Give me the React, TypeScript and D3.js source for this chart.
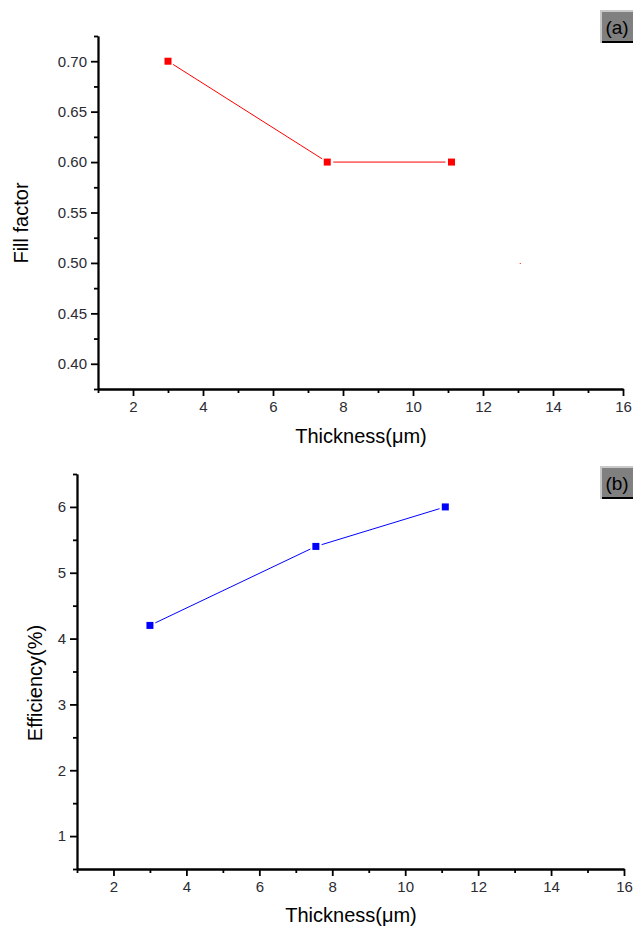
import React, { useEffect, useRef } from "react";
import * as d3 from "d3";

// data
const thickness = [3, 7.55, 11.1];
const fillFactor = [0.7, 0.6, 0.6];
const efficiency = [4.2, 5.4, 6.0];
const strayDot = [13.05, 0.5];

const xTicks = [2, 4, 6, 8, 10, 12, 14, 16];
const xMinorTicks = [1, 3, 5, 7, 9, 11, 13, 15];
const fillTicks = [0.4, 0.45, 0.5, 0.55, 0.6, 0.65, 0.7];
const fillMinorTicks = [0.375, 0.425, 0.475, 0.525, 0.575, 0.625, 0.675, 0.725];
const effTicks = [1, 2, 3, 4, 5, 6];
const effMinorTicks = [0.5, 1.5, 2.5, 3.5, 4.5, 5.5, 6.5];

const FONT = "'Liberation Sans', Arial, sans-serif";

function drawPanel(svg, opts) {
    const { xRange, yDomain, yRange, xs, ys, color, yTicks, yMinor, yFormat, yLabel, yLabelX, yLabelY, xLabelY, xLabelX, tag, tagY } = opts;
    const x = d3.scaleLinear().domain([1, 16]).range(xRange);
    const y = d3.scaleLinear().domain(yDomain).range(yRange);
    const g = svg.append("g");

    // x axis, major + minor
    g.append("g")
        .attr("transform", "translate(0," + yRange[0] + ")")
        .call(d3.axisBottom(x).tickValues(xTicks).tickSize(7).tickSizeOuter(0).tickPadding(5));
    g.append("g")
        .attr("transform", "translate(0," + yRange[0] + ")")
        .call(d3.axisBottom(x).tickValues(xMinorTicks).tickSize(4).tickSizeOuter(0).tickFormat(() => ""));

    // y axis, major + minor
    g.append("g")
        .attr("transform", "translate(" + xRange[0] + ",0)")
        .call(d3.axisLeft(y).tickValues(yTicks).tickSize(7).tickSizeOuter(0).tickPadding(4).tickFormat(yFormat));
    g.append("g")
        .attr("transform", "translate(" + xRange[0] + ",0)")
        .call(d3.axisLeft(y).tickValues(yMinor).tickSize(4).tickSizeOuter(0).tickFormat(() => ""));

    g.selectAll(".domain, .tick line").attr("stroke", "#000").attr("stroke-width", 1.8);
    g.selectAll(".tick text")
        .attr("font-family", FONT)
        .attr("font-size", 15)
        .attr("fill", "#2b2b33");

    // connecting segments, shortened so they stop short of the markers
    const pts = xs.map((d, i) => [x(d), y(ys[i])]);
    const gap = 6;
    for (let i = 0; i < pts.length - 1; i++) {
        const [x0, y0] = pts[i];
        const [x1, y1] = pts[i + 1];
        const len = Math.hypot(x1 - x0, y1 - y0);
        const ux = (x1 - x0) / len, uy = (y1 - y0) / len;
        g.append("line")
            .attr("x1", x0 + ux * gap).attr("y1", y0 + uy * gap)
            .attr("x2", x1 - ux * gap).attr("y2", y1 - uy * gap)
            .attr("stroke", color)
            .attr("stroke-width", 1);
    }

    // square markers
    const s = 7;
    g.selectAll(".marker")
        .data(pts)
        .enter()
        .append("rect")
        .attr("class", "marker")
        .attr("x", d => d[0] - s / 2)
        .attr("y", d => d[1] - s / 2)
        .attr("width", s)
        .attr("height", s)
        .attr("fill", color);

    if (opts.stray) {
        g.append("rect")
            .attr("x", x(opts.stray[0]))
            .attr("y", y(opts.stray[1]))
            .attr("width", 1)
            .attr("height", 1)
            .attr("fill", color);
    }

    // axis titles
    g.append("text")
        .attr("x", xLabelX)
        .attr("y", xLabelY)
        .attr("text-anchor", "middle")
        .attr("font-family", FONT)
        .attr("font-size", 20)
        .attr("fill", "#000")
        .text("Thickness(μm)");

    g.append("text")
        .attr("transform", "translate(" + yLabelX + "," + yLabelY + ") rotate(-90)")
        .attr("text-anchor", "middle")
        .attr("font-family", FONT)
        .attr("font-size", 20)
        .attr("fill", "#000")
        .text(yLabel);

    // panel tag box, bevelled like the source
    const tg = g.append("g").attr("transform", "translate(600," + tagY + ")");
    tg.append("rect").attr("x", 0).attr("y", 0).attr("width", 33).attr("height", 33).attr("fill", "#c8c8c8");
    tg.append("rect").attr("x", 2).attr("y", 2).attr("width", 31).attr("height", 31).attr("fill", "#000");
    tg.append("rect").attr("x", 2).attr("y", 2).attr("width", 31).attr("height", 29).attr("fill", "#808080");
    tg.append("text")
        .attr("x", 17)
        .attr("y", 24)
        .attr("text-anchor", "middle")
        .attr("font-family", FONT)
        .attr("font-size", 19)
        .attr("fill", "#000")
        .text(tag);
}

function ThicknessCharts() {
    const chart = useRef(null);

    useEffect(() => {
        const svg = d3.select(chart.current)
            .attr("width", 633)
            .attr("height", 926);

        svg.append("rect").attr("width", 633).attr("height", 926).attr("fill", "#fff");

        // (a) fill factor
        drawPanel(svg, {
            xRange: [98, 623],
            yDomain: [0.375, 0.725],
            yRange: [389, 36],
            xs: thickness,
            ys: fillFactor,
            color: "#ff0000",
            yTicks: fillTicks,
            yMinor: fillMinorTicks,
            yFormat: d3.format(".2f"),
            yLabel: "Fill factor",
            yLabelX: 28,
            yLabelY: 223,
            xLabelX: 361,
            xLabelY: 443,
            tag: "(a)",
            tagY: 10,
            stray: strayDot
        });

        // (b) efficiency
        drawPanel(svg, {
            xRange: [77, 624],
            yDomain: [0.5, 6.5],
            yRange: [869, 474],
            xs: thickness,
            ys: efficiency,
            color: "#0000ff",
            yTicks: effTicks,
            yMinor: effMinorTicks,
            yFormat: d3.format("d"),
            yLabel: "Efficiency(%)",
            yLabelX: 42,
            yLabelY: 683,
            xLabelX: 351,
            xLabelY: 922,
            tag: "(b)",
            tagY: 466
        });

        return () => {
            svg.selectAll("*").remove();
        };
    }, []);

    return (
        <svg ref={chart} style={{ position: "absolute", left: 0, top: 0, display: "block" }}></svg>
    );
}

export default function App() {
    return <ThicknessCharts />;
}
